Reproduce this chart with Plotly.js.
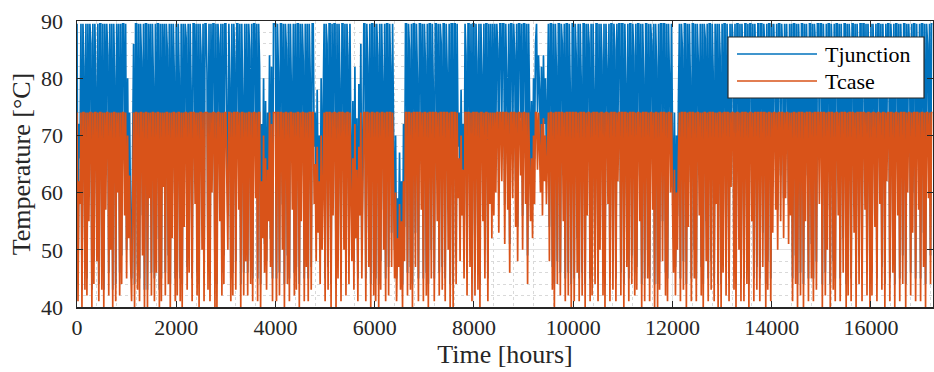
<!DOCTYPE html>
<html>
<head>
<meta charset="utf-8">
<script src="https://cdn.plot.ly/plotly-3.0.1.min.js"></script>
<style>html,body{margin:0;padding:0;background:#fff;}#chart{width:934px;height:372px;}</style>
</head>
<body>
<div id="chart"></div>
<script>
// Sampling step of the series (hours between consecutive samples)
const STEP_HOURS = 20;

const seriesNames = ["Tjunction", "Tcase"];

// Case temperature [°C], one value per 20 h
const Tcase = [
  // 0 - 1980
  74,41,62,58,74,40,74,74,43,74, 42,74,55,74,74,40,74,44,74,74, 48,74,41,74,74,43,74,40,74,57, 74,74,42,74,50,74,40,74,74,41, 74,60,74,42,74,44,74,74,56,74,
  45,70,52,63,48,41,58,74,40,74, 74,43,74,41,74,74,49,74,40,74, 74,40,74,59,74,42,74,74,41,74, 46,74,74,40,74,41,74,61,74,42, 74,74,44,74,40,74,52,74,74,41,
  // 2000 - 3980
  74,42,74,74,41,74,40,74,54,74, 74,43,74,46,74,74,41,74,74,58, 74,42,74,40,74,74,50,74,41,74, 74,74,43,74,41,74,60,74,74,40, 74,40,74,74,55,74,42,74,44,74,
  74,62,50,74,74,41,74,42,74,74, 43,74,74,57,74,40,74,74,42,74, 48,74,42,74,74,44,74,41,74,74, 59,74,41,74,74,40,62,52,70,46, 66,43,64,55,74,47,72,41,74,74,
  // 4000 - 5980
  74,41,74,74,42,74,74,50,74,40, 74,74,44,74,41,74,74,57,74,42, 74,43,74,74,40,74,55,74,74,41, 74,47,74,41,74,74,43,74,74,58, 65,48,68,53,62,44,70,50,66,74,
  41,74,74,43,74,74,40,74,56,74, 74,40,74,45,74,74,41,74,74,50, 74,42,74,74,44,74,60,48,66,43, 72,52,64,41,68,56,74,45,60,74, 74,41,74,74,47,74,40,74,74,42,
  // 6000 - 7980
  74,41,74,74,40,74,43,74,74,50, 74,41,74,74,42,74,74,47,74,56, 45,60,41,52,47,58,43,55,40,62, 48,74,74,42,74,74,43,74,40,74, 74,47,74,74,41,74,74,57,74,41,
  74,74,42,74,40,74,74,45,74,74, 41,74,74,55,74,42,74,74,43,74, 74,41,74,74,50,74,40,74,74,40, 74,74,44,74,59,66,48,70,56,64, 45,74,74,42,74,74,47,74,41,74,
  // 8000 - 9980
  74,42,74,74,43,74,40,74,74,55, 74,45,74,74,41,74,58,74,52,74, 56,74,60,74,74,53,74,74,62,74, 74,51,74,74,57,74,46,74,74,59, 74,74,54,74,48,74,74,63,74,50,
  74,74,58,74,44,74,62,55,66,52, 70,58,74,74,64,74,68,60,72,56, 73,62,70,58,66,74,48,74,74,43, 74,40,74,74,44,74,74,42,74,74, 55,74,41,74,74,42,74,74,40,74,
  // 10000 - 11980
  74,41,74,74,46,74,41,74,74,42, 74,74,40,74,56,74,74,41,74,42, 74,74,44,74,74,41,74,50,74,74, 42,74,40,74,74,58,74,41,74,74, 43,74,74,41,74,62,74,74,42,74,
  74,40,74,74,47,74,41,74,74,44, 74,74,42,74,43,74,74,55,74,40, 74,74,41,74,74,45,74,41,74,74, 57,74,40,74,74,40,74,43,74,74, 48,74,74,42,74,41,74,74,60,74,
  // 12000 - 13980
  58,46,64,42,60,50,66,74,41,74, 74,43,74,74,40,74,54,74,74,41, 74,74,45,74,41,74,74,56,74,42, 74,40,74,74,48,74,41,74,74,43, 74,74,41,74,58,74,40,74,74,40,
  74,46,74,74,42,74,74,41,74,61, 74,74,43,74,40,74,74,50,74,41, 74,74,41,74,74,44,74,40,74,74, 55,74,41,74,74,43,74,74,41,74, 74,47,74,74,40,74,43,74,74,41,
  // 14000 - 15980
  74,53,74,74,57,74,50,74,74,55, 74,74,52,74,59,74,74,51,74,56, 74,41,74,74,44,74,40,74,74,42, 74,74,40,74,55,74,74,41,74,74, 45,74,41,74,74,43,74,74,58,74,
  74,40,74,74,42,74,50,74,74,40, 74,74,43,74,41,74,74,56,74,41, 74,74,46,74,74,40,74,42,74,74, 41,74,74,53,74,40,74,74,44,74, 74,41,74,74,57,74,42,74,74,40,
  // 16000 - 17240
  74,42,74,74,54,74,41,74,74,58, 74,43,74,74,40,74,62,74,74,41, 74,74,46,74,40,74,74,56,74,41, 74,74,44,74,74,40,74,60,74,74, 42,74,53,74,74,41,74,74,57,74,
  41,74,74,47,74,40,74,74,59,74, 44,74,74
];

// Junction temperature [°C], same sampling
const Tjunction = [
  // 0 - 1980
  89.5,44,72,66,89.5,43,89.5,82,47,89.5, 45,89.5,63,89.5,86,43,89.5,48,89.5,78, 54,89.5,44,89.5,89.5,47,89.5,43,89.5,66, 89.5,84,46,89.5,57,89.5,43,89.5,80,44, 89.5,71,89.5,46,89.5,49,89.5,89.5,65,89.5,
  50,80,58,74,54,45,66,86,44,89.5, 89.5,47,89.5,45,89.5,83,56,89.5,43,89.5, 89.5,43,89.5,69,89.5,46,89.5,79,45,89.5, 52,89.5,89.5,43,89.5,45,89.5,72,89.5,46, 89.5,85,49,89.5,44,89.5,60,89.5,81,45,
  // 2000 - 3980
  89.5,46,89.5,80,45,89.5,44,89.5,62,89.5, 87,47,89.5,52,89.5,78,45,89.5,89.5,67, 89.5,46,89.5,44,89.5,84,57,89.5,45,89.5, 89.5,81,47,89.5,45,89.5,69,89.5,89.5,44, 89.5,44,89.5,86,63,89.5,46,89.5,49,89.5,
  89.5,70,56,89.5,79,45,89.5,46,89.5,83, 48,89.5,89.5,66,89.5,44,89.5,77,46,89.5, 55,89.5,46,89.5,85,48,89.5,45,89.5,89.5, 68,89.5,45,89.5,82,44,72,58,80,51, 76,48,74,62,84,52,82,45,89.5,89.5,
  // 4000 - 5980
  89.5,45,89.5,81,46,89.5,89.5,58,89.5,44, 89.5,85,49,89.5,45,89.5,78,66,89.5,46, 89.5,47,89.5,89.5,44,89.5,63,89.5,83,45, 89.5,53,89.5,45,89.5,80,47,89.5,89.5,68, 74,54,78,60,70,49,80,56,75,89.5,
  45,89.5,86,47,89.5,89.5,44,89.5,64,89.5, 89.5,44,89.5,50,89.5,79,45,89.5,89.5,57, 89.5,46,89.5,84,49,89.5,70,54,76,48, 82,58,73,45,79,63,86,50,68,89.5, 89.5,45,89.5,82,53,89.5,44,89.5,89.5,46,
  // 6000 - 7980
  89.5,45,89.5,84,44,89.5,48,89.5,79,57, 89.5,45,89.5,89.5,47,89.5,82,53,89.5,64, 50,70,45,59,52,67,48,62,44,72, 54,89.5,89.5,46,89.5,85,47,89.5,44,89.5, 89.5,53,89.5,80,45,89.5,89.5,65,89.5,45,
  89.5,83,46,89.5,44,89.5,89.5,50,89.5,78, 45,89.5,89.5,63,89.5,46,89.5,86,47,89.5, 89.5,45,89.5,81,57,89.5,44,89.5,89.5,44, 89.5,89.5,49,89.5,68,74,55,78,64,72, 50,89.5,84,46,89.5,89.5,53,89.5,45,89.5,
  // 8000 - 9980
  89.5,46,89.5,83,47,89.5,44,89.5,80,63, 89.5,50,89.5,89.5,45,89.5,67,89.5,59,89.5, 64,89.5,70,89.5,85,60,89.5,89.5,72,89.5, 89.5,58,89.5,79,65,89.5,51,89.5,89.5,68, 89.5,84,62,89.5,54,89.5,89.5,73,89.5,56,
  89.5,89.5,66,89.5,49,89.5,72,62,76,58, 80,66,86,89.5,74,84,78,68,82,63, 84,72,80,66,76,89.5,54,89.5,89.5,47, 89.5,44,89.5,82,48,89.5,89.5,46,89.5,86, 63,89.5,45,89.5,89.5,46,89.5,78,44,89.5,
  // 10000 - 11980
  89.5,45,89.5,84,52,89.5,45,89.5,80,46, 89.5,89.5,44,89.5,64,89.5,86,45,89.5,46, 89.5,78,49,89.5,89.5,45,89.5,58,89.5,83, 46,89.5,44,89.5,81,67,89.5,45,89.5,89.5, 48,89.5,85,45,89.5,71,89.5,89.5,46,89.5,
  89.5,44,89.5,79,53,89.5,45,89.5,89.5,49, 89.5,84,46,89.5,47,89.5,89.5,63,89.5,44, 89.5,80,45,89.5,89.5,50,89.5,45,89.5,86, 65,89.5,44,89.5,82,44,89.5,48,89.5,89.5, 55,89.5,89.5,46,89.5,45,89.5,77,69,89.5,
  // 12000 - 13980
  66,52,74,47,70,56,76,89.5,45,89.5, 85,48,89.5,89.5,44,89.5,62,89.5,80,45, 89.5,89.5,50,89.5,45,89.5,83,64,89.5,47, 89.5,44,89.5,87,55,89.5,45,89.5,89.5,48, 89.5,81,45,89.5,67,89.5,44,89.5,84,44,
  89.5,52,89.5,89.5,47,89.5,78,45,89.5,70, 89.5,86,48,89.5,44,89.5,89.5,57,89.5,45, 89.5,82,45,89.5,89.5,49,89.5,44,89.5,89.5, 63,89.5,45,89.5,80,47,89.5,89.5,45,89.5, 89.5,53,89.5,85,44,89.5,48,89.5,89.5,45,
  // 14000 - 15980
  89.5,61,89.5,82,66,89.5,57,89.5,89.5,63, 89.5,85,59,89.5,68,89.5,79,58,89.5,65, 89.5,45,89.5,89.5,49,89.5,44,89.5,83,46, 89.5,89.5,44,89.5,63,89.5,80,45,89.5,89.5, 51,89.5,45,89.5,86,48,89.5,89.5,67,89.5,
  89.5,44,89.5,81,46,89.5,57,89.5,89.5,44, 89.5,84,48,89.5,45,89.5,89.5,64,89.5,45, 89.5,78,52,89.5,89.5,44,89.5,47,89.5,85, 45,89.5,89.5,60,89.5,44,89.5,82,49,89.5, 89.5,45,89.5,89.5,66,89.5,47,89.5,80,44,
  // 16000 - 17240
  89.5,46,89.5,83,62,89.5,45,89.5,89.5,67, 89.5,47,89.5,79,44,89.5,72,89.5,89.5,45, 89.5,85,52,89.5,44,89.5,89.5,64,89.5,45, 89.5,81,49,89.5,89.5,44,89.5,70,89.5,84, 46,89.5,60,89.5,89.5,45,89.5,78,66,89.5,
  45,89.5,89.5,53,89.5,44,89.5,86,68,89.5, 49,89.5,89.5
];

const xTickVals = [0, 2000, 4000, 6000, 8000, 10000, 12000, 14000, 16000];
const yTickVals = [40, 50, 60, 70, 80, 90];

const hours = Tcase.map((_, i) => i * STEP_HOURS);

const BLUE = "#0072BD";
const ORANGE = "#D95319";
const AXC = "#262626";
const FONT = "Liberation Serif";

const traces = [
  {x: hours, y: Tjunction, name: seriesNames[0], type: "scatter", mode: "lines",
   line: {color: BLUE, width: 1.7}, hoverinfo: "skip"},
  {x: hours, y: Tcase, name: seriesNames[1], type: "scatter", mode: "lines",
   line: {color: ORANGE, width: 1.7}, hoverinfo: "skip"}
];

const axisCommon = {
  showline: true, linecolor: AXC, linewidth: 1.5, mirror: "ticks",
  ticks: "inside", ticklen: 6, tickwidth: 1, tickcolor: AXC,
  showgrid: true, gridcolor: "#e3e3e3", gridwidth: 1,
  zeroline: false, tickfont: {family: FONT, size: 22, color: AXC},
  automargin: false
};

// custom legend (MATLAB-style long line samples)
const lgX0 = 0.7605, lgX1 = 0.9895, lgY0 = 0.7308, lgY1 = 0.944;
const lgRows = [0.8846, 0.7902];
const shapes = [
  {type: "rect", xref: "paper", yref: "paper", x0: lgX0, x1: lgX1, y0: lgY0, y1: lgY1,
   fillcolor: "#ffffff", line: {color: AXC, width: 1.2}, layer: "above"}
];
const annotations = [];
[BLUE, ORANGE].forEach((c, k) => {
  shapes.push({type: "line", xref: "paper", yref: "paper", x0: 0.771, x1: 0.8645,
    y0: lgRows[k], y1: lgRows[k], line: {color: c, width: 1.6}, layer: "above"});
  annotations.push({xref: "paper", yref: "paper", x: 0.8715, y: lgRows[k],
    xanchor: "left", yanchor: "middle", showarrow: false, text: seriesNames[k],
    font: {family: FONT, size: 22, color: "#000"}});
});

const layout = {
  width: 934, height: 372,
  margin: {l: 77, r: 1, t: 21, b: 65, pad: 0},
  paper_bgcolor: "#ffffff", plot_bgcolor: "#ffffff",
  showlegend: false,
  font: {family: FONT, color: AXC},
  xaxis: Object.assign({}, axisCommon, {
    range: [0, 17250], tickvals: xTickVals, ticktext: xTickVals.map(String),
    ticklabelstandoff: 0,
    minor: {dtick: 400, tick0: 0, showgrid: true, gridcolor: "#d9d9d9", griddash: "dot", gridwidth: 1, ticks: ""},
    title: {text: "Time [hours]", font: {family: FONT, size: 26, color: AXC}, standoff: 0}
  }),
  yaxis: Object.assign({}, axisCommon, {
    range: [40, 90], tickvals: yTickVals, ticktext: yTickVals.map(String),
    ticklabelstandoff: 8,
    minor: {dtick: 2, tick0: 40, showgrid: true, gridcolor: "#d9d9d9", griddash: "dot", gridwidth: 1, ticks: ""},
    title: {text: "Temperature [°C]", font: {family: FONT, size: 26, color: AXC}, standoff: 3}
  }),
  shapes: shapes,
  annotations: annotations
};

Plotly.newPlot("chart", traces, layout, {staticPlot: true, displayModeBar: false});
</script>
</body>
</html>
